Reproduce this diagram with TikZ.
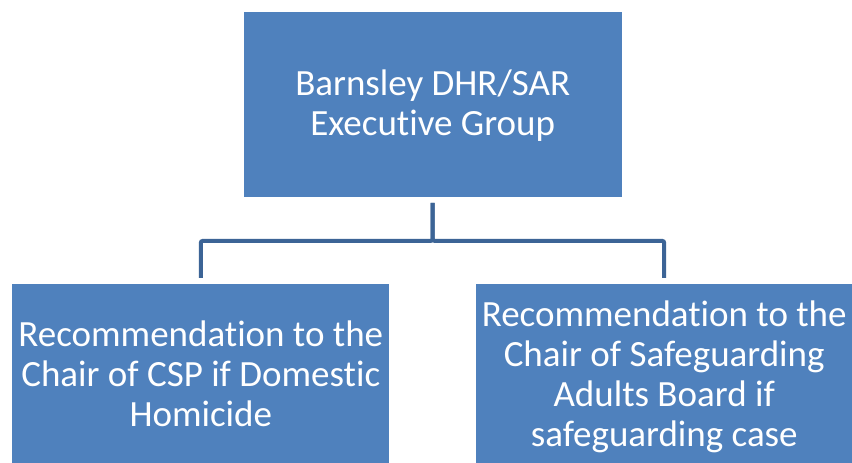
\documentclass[tikz,border=0pt]{standalone}
\usepackage{fontspec}
\setmainfont{Carlito}[Ligatures=CommonOff]
\definecolor{boxblue}{HTML}{4F81BD}
\definecolor{linkblue}{HTML}{3C6496}
\newcommand\mytopstrut{\rule{0pt}{32pt}}
\newcommand\mybotstrut{\rule[-9pt]{0pt}{9pt}}
\begin{document}
\begin{tikzpicture}[x=1pt,y=-1pt,
  orgbox/.style={fill=boxblue, draw=none, text=white, align=center, inner sep=0pt,
    font=\fontsize{37}{40}\selectfont},
  link/.style={draw=linkblue, line width=4pt, rounded corners=2pt, shorten <=6pt, shorten >=6pt}]
\clip (0,0) rectangle (852,463);
\fill[white] (0,0) rectangle (852,463);
\node[orgbox, minimum width=378pt, minimum height=185pt] (top) at (432.7,104.2) {\mytopstrut Barnsley DHR/SAR\\Executive Group\mybotstrut};
\node[orgbox, minimum width=377pt, minimum height=182pt] (left) at (200.8,375) {\mytopstrut Recommendation to the\\Chair of CSP if Domestic\\Homicide\mybotstrut};
\node[orgbox, minimum width=377pt, minimum height=182pt] (right) at (664.2,375) {\mytopstrut Recommendation to the\\Chair of Safeguarding\\Adults Board if\\safeguarding case\mybotstrut};
\draw[link] (top.south) -- ++(0,44) -| (left.north);
\draw[link] (top.south) -- ++(0,44) -| (right.north);
\end{tikzpicture}
\end{document}
